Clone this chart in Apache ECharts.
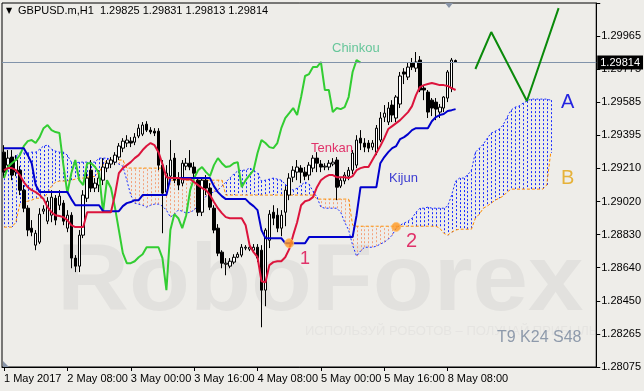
<!DOCTYPE html>
<html><head><meta charset="utf-8">
<script src="https://cdn.jsdelivr.net/npm/echarts@6/dist/echarts.min.js"></script>
<style>html,body{margin:0;padding:0;background:#eeede9;}#c{width:644px;height:391px;}</style>
</head><body><div id="c"></div>
<script>
// ---------- DATA ----------
const titleText = 'GBPUSD.m,H1  1.29825 1.29831 1.29813 1.29814';
const lastPriceText = '1.29814';
const lastPrice = 1.29814;

const xTickIdx = [0, 16, 32, 48, 64, 80, 96, 112];
const xTickText = ['1 May 2017', '2 May 08:00', '3 May 00:00', '3 May 16:00', '4 May 08:00', '5 May 00:00', '5 May 16:00', '8 May 08:00'];
const yTickLabels = ['1.28075', '1.28265', '1.28450', '1.28640', '1.28830', '1.29020', '1.29210', '1.29395', '1.29585', '1.29775', '1.29965'];

const opens = [
1.29302,1.29228,1.29274,1.29188,1.29199,1.29085,1.28982,1.28868,1.28771,1.28788,
1.28965,1.28908,1.28942,1.29039,1.28999,1.29011,1.28868,1.28942,1.28697,1.28651,
1.28828,1.29039,1.29199,1.29097,1.29114,1.29142,1.29211,1.29234,1.29245,1.29274,
1.29325,1.29354,1.29365,1.29359,1.29394,1.29405,1.29462,1.29428,1.29422,1.29422,
1.29228,1.29074,1.29165,1.29268,1.29154,1.29125,1.29222,1.29239,1.29217,1.29142,
1.28959,1.29142,1.29097,1.28982,1.28868,1.28731,1.28662,1.28651,1.28674,1.28702,
1.28714,1.28754,1.28748,1.28742,1.28759,1.28742,1.28514,1.28799,1.28959,1.28942,
1.28868,1.28959,1.29057,1.29159,1.29188,1.29211,1.29188,1.29171,1.29211,1.29268,
1.29234,1.29217,1.29217,1.29234,1.29257,1.29108,1.29137,1.29165,1.29199,1.29228,
1.29382,1.29354,1.29354,1.29331,1.29302,1.29371,1.29502,1.29474,1.29571,1.29497,
1.29577,1.29760,1.29731,1.29811,1.29782,1.29828,1.29668,1.29645,1.29599,1.29588,
1.29531,1.29554,1.29611,1.29668,1.29825];
const closes = [
1.29188,1.29268,1.29171,1.29257,1.29085,1.28982,1.28857,1.28845,1.28839,1.28948,
1.28977,1.29022,1.29045,1.28914,1.29051,1.28908,1.28942,1.28697,1.28651,1.28828,
1.29057,1.29154,1.29097,1.29125,1.29154,1.29217,1.29239,1.29257,1.29285,1.29337,
1.29365,1.29371,1.29354,1.29388,1.29439,1.29457,1.29428,1.29417,1.29411,1.29228,
1.29068,1.29182,1.29257,1.29142,1.29114,1.29239,1.29239,1.29217,1.29182,1.28959,
1.29142,1.29097,1.28988,1.28857,1.28725,1.28668,1.28668,1.28679,1.28702,1.28719,
1.28759,1.28759,1.28759,1.28759,1.28697,1.28514,1.28857,1.28948,1.28925,1.28868,
1.28942,1.29085,1.29154,1.29199,1.29217,1.29188,1.29165,1.29228,1.29268,1.29239,
1.29217,1.29222,1.29239,1.29245,1.29102,1.29142,1.29171,1.29199,1.29297,1.29371,
1.29354,1.29331,1.29325,1.29354,1.29439,1.29497,1.29525,1.29554,1.29514,1.29617,
1.29737,1.29748,1.29788,1.29788,1.29817,1.29657,1.29657,1.29531,1.29554,1.29548,
1.29559,1.29617,1.29760,1.29828,1.29814];
const highs = [
1.29342,1.29314,1.29314,1.29285,1.29222,1.29114,1.28999,1.28914,1.28857,1.28982,
1.28999,1.29045,1.29085,1.29057,1.29085,1.29028,1.28971,1.28959,1.28714,1.28857,
1.29085,1.29188,1.29257,1.29154,1.29199,1.29268,1.29257,1.29274,1.29302,1.29354,
1.29382,1.29399,1.29388,1.29411,1.29462,1.29474,1.29479,1.29445,1.29439,1.29439,
1.29257,1.29228,1.29371,1.29297,1.29188,1.29257,1.29268,1.29314,1.29245,1.29154,
1.29154,1.29171,1.29125,1.28999,1.28891,1.28742,1.28697,1.28697,1.28719,1.28731,
1.28777,1.28771,1.28777,1.28777,1.28777,1.28771,1.28868,1.28971,1.28999,1.28982,
1.28971,1.29108,1.29182,1.29222,1.29257,1.29228,1.29217,1.29245,1.29285,1.29302,
1.29257,1.29239,1.29257,1.29268,1.29274,1.29154,1.29188,1.29217,1.29314,1.29399,
1.29428,1.29382,1.29371,1.29371,1.29457,1.29531,1.29571,1.29588,1.29599,1.29628,
1.29760,1.29782,1.29817,1.29840,1.29874,1.29851,1.29685,1.29657,1.29611,1.29611,
1.29577,1.29622,1.29771,1.29840,1.29831];
const lows = [
1.29154,1.29199,1.29142,1.29165,1.29057,1.28959,1.28822,1.28822,1.28742,1.28777,
1.28948,1.28891,1.28902,1.28885,1.28971,1.28885,1.28845,1.28639,1.28617,1.28617,
1.28811,1.29017,1.29074,1.29074,1.29074,1.29114,1.29188,1.29211,1.29228,1.29257,
1.29302,1.29331,1.29331,1.29342,1.29382,1.29394,1.29417,1.29405,1.29394,1.29199,
1.28839,1.29051,1.29154,1.29125,1.29085,1.29108,1.29199,1.29199,1.29159,1.28937,
1.28937,1.29057,1.28971,1.28839,1.28708,1.28639,1.28599,1.28639,1.28662,1.28697,
1.28702,1.28742,1.28737,1.28731,1.28674,1.28302,1.28422,1.28754,1.28885,1.28845,
1.28822,1.28879,1.29028,1.29131,1.29142,1.29125,1.29142,1.29142,1.29188,1.29188,
1.29188,1.29199,1.29199,1.29222,1.29028,1.29097,1.29119,1.29142,1.29177,1.29211,
1.29314,1.29302,1.29302,1.29314,1.29285,1.29359,1.29474,1.29457,1.29474,1.29474,
1.29554,1.29691,1.29714,1.29771,1.29760,1.29645,1.29599,1.29497,1.29508,1.29485,
1.29497,1.29531,1.29588,1.29645,1.29813];

const tenkan = [
1.29199,1.29211,1.29211,1.29199,1.29171,1.29131,1.29102,1.29085,1.29074,1.29057,
1.29034,1.28988,1.28959,1.28942,1.28937,1.28931,1.28914,1.28885,1.28874,1.28874,
1.28874,1.28959,1.28959,1.28959,1.28959,1.28959,1.28959,1.28959,1.29057,1.29182,
1.29211,1.29228,1.29245,1.29268,1.29285,1.29314,1.29337,1.29354,1.29342,1.29302,
1.29234,1.29159,1.29154,1.29154,1.29154,1.29148,1.29148,1.29148,1.29131,1.29114,
1.29097,1.29085,1.29057,1.29017,1.28982,1.28954,1.28931,1.28925,1.28925,1.28925,
1.28925,1.28885,1.28771,1.28731,1.28702,1.28565,1.28559,1.28657,1.28674,1.28679,
1.28679,1.28702,1.28748,1.28828,1.28902,1.28999,1.29022,1.29028,1.29045,1.29102,
1.29142,1.29159,1.29171,1.29171,1.29159,1.29159,1.29159,1.29154,1.29165,1.29199,
1.29211,1.29217,1.29217,1.29257,1.29297,1.29337,1.29382,1.29434,1.29451,1.29468,
1.29485,1.29508,1.29531,1.29565,1.29628,1.29674,1.29685,1.29691,1.29697,1.29691,
1.29685,1.29685,1.29680,1.29668,1.29657];
const kijun = [
1.29325,1.29325,1.29325,1.29325,1.29325,1.29325,1.29285,1.29239,1.29114,1.29074,
1.29074,1.29074,1.29074,1.29074,1.29074,1.29074,1.29074,1.29034,1.28999,1.28999,
1.28999,1.28999,1.28999,1.28999,1.28999,1.28965,1.28965,1.28965,1.28965,1.28965,
1.28994,1.29011,1.29017,1.29028,1.29028,1.29057,1.29057,1.29057,1.29057,1.29057,
1.29057,1.29057,1.29154,1.29154,1.29154,1.29154,1.29154,1.29154,1.29154,1.29154,
1.29154,1.29154,1.29154,1.29108,1.29074,1.29051,1.29034,1.29034,1.29034,1.29034,
1.29034,1.29034,1.29011,1.28994,1.28971,1.28857,1.28811,1.28811,1.28811,1.28811,
1.28811,1.28782,1.28782,1.28782,1.28782,1.28782,1.28782,1.28817,1.28817,1.28817,
1.28817,1.28817,1.28817,1.28817,1.28817,1.28817,1.28817,1.28817,1.28817,1.28942,
1.29102,1.29102,1.29102,1.29102,1.29102,1.29239,1.29274,1.29302,1.29325,1.29337,
1.29377,1.29388,1.29405,1.29428,1.29439,1.29439,1.29439,1.29439,1.29479,1.29502,
1.29514,1.29520,1.29537,1.29542,1.29548];
const chinkou = [
1.29154,1.29217,1.29239,1.29257,1.29285,1.29337,1.29365,1.29371,1.29354,1.29388,
1.29439,1.29457,1.29428,1.29417,1.29411,1.29228,1.29068,1.29182,1.29257,1.29142,
1.29114,1.29239,1.29239,1.29217,1.29182,1.28959,1.29142,1.29097,1.28988,1.28857,
1.28725,1.28668,1.28668,1.28679,1.28702,1.28719,1.28759,1.28759,1.28759,1.28759,
1.28697,1.28514,1.28857,1.28948,1.28925,1.28868,1.28942,1.29085,1.29154,1.29199,
1.29217,1.29188,1.29165,1.29228,1.29268,1.29239,1.29217,1.29222,1.29239,1.29245,
1.29102,1.29142,1.29171,1.29199,1.29297,1.29371,1.29354,1.29331,1.29325,1.29354,
1.29439,1.29497,1.29525,1.29554,1.29514,1.29617,1.29737,1.29748,1.29788,1.29788,
1.29817,1.29657,1.29657,1.29531,1.29554,1.29548,1.29559,1.29617,1.29760,1.29828,
1.29814];
const senkouA = [
1.29222,1.29245,1.29268,1.29279,1.29297,1.29297,1.29297,1.29302,1.29302,1.29319,
1.29337,1.29342,1.29319,1.29308,1.29302,1.29302,1.29285,1.29245,1.29239,1.29245,
1.29245,1.29245,1.29245,1.29245,1.29268,1.29268,1.29268,1.29257,1.29245,1.29234,
1.29222,1.29142,1.29057,1.29011,1.29005,1.28999,1.28988,1.28999,1.29005,1.29005,
1.28994,1.28971,1.28931,1.28948,1.28971,1.28965,1.28954,1.28959,1.28971,1.28999,
1.29017,1.29051,1.29068,1.29074,1.29085,1.29108,1.29131,1.29154,1.29177,1.29194,
1.29199,1.29199,1.29211,1.29199,1.29182,1.29137,1.29142,1.29148,1.29154,1.29148,
1.29142,1.29119,1.29097,1.29085,1.29097,1.29114,1.29131,1.29119,1.29079,1.29045,
1.28988,1.28982,1.28982,1.28982,1.28982,1.28959,1.28902,1.28857,1.28771,1.28708,
1.28737,1.28759,1.28759,1.28759,1.28765,1.28777,1.28788,1.28805,1.28828,1.28868,
1.28885,1.28897,1.28908,1.28925,1.28959,1.28982,1.28982,1.28988,1.28982,1.28982,
1.28982,1.28982,1.28994,1.29057,1.29137,1.29154,1.29154,1.29171,1.29199,1.29302,
1.29325,1.29348,1.29382,1.29411,1.29422,1.29434,1.29457,1.29502,1.29542,1.29559,
1.29565,1.29582,1.29594,1.29605,1.29605,1.29605,1.29605,1.29605,1.29599];
const senkouB = [
1.28874,1.28874,1.28874,1.28902,1.29005,1.29017,1.29022,1.29028,1.29039,1.29039,
1.29039,1.29068,1.29108,1.29131,1.29137,1.29137,1.29137,1.29142,1.29148,1.29154,
1.29154,1.29159,1.29159,1.29165,1.29188,1.29228,1.29257,1.29257,1.29257,1.29257,
1.29257,1.29211,1.29211,1.29211,1.29211,1.29211,1.29211,1.29211,1.29211,1.29211,
1.29211,1.29154,1.29142,1.29142,1.29142,1.29142,1.29142,1.29142,1.29142,1.29142,
1.29142,1.29142,1.29142,1.29142,1.29142,1.29142,1.29057,1.29057,1.29057,1.29057,
1.29057,1.29057,1.29057,1.29057,1.29057,1.29057,1.29057,1.29057,1.29057,1.29057,
1.29057,1.29057,1.29057,1.29057,1.29057,1.29057,1.29057,1.29057,1.29057,1.29034,
1.29034,1.29034,1.29034,1.29034,1.29034,1.29034,1.29034,1.29034,1.28885,1.28879,
1.28879,1.28879,1.28879,1.28879,1.28879,1.28879,1.28879,1.28879,1.28879,1.28879,
1.28879,1.28879,1.28879,1.28879,1.28879,1.28879,1.28879,1.28879,1.28879,1.28879,
1.28868,1.28839,1.28828,1.28845,1.28857,1.28862,1.28862,1.28862,1.28862,1.28925,
1.28948,1.28982,1.28994,1.29011,1.29028,1.29039,1.29051,1.29074,1.29091,1.29091,
1.29091,1.29091,1.29091,1.29091,1.29091,1.29091,1.29091,1.29114,1.29297];

const forecastIdx = [119, 123, 132, 140];
const forecastVal = [1.29777, 1.29988, 1.29594, 1.30125];
const crossIdx = [72, 99];
const crossVal = [1.28782, 1.28875];

// ---------- CATEGORIES (hourly bars, weekend skipped) ----------
const categories = [];
(function () {
  let t = Date.UTC(2017, 4, 1, 16);
  for (let i = 0; i < 150; i++) {
    const d = new Date(t);
    categories.push(d.getUTCDate() + ' May ' + String(d.getUTCHours()).padStart(2, '0') + ':00');
    t += 3600e3;
    let nd = new Date(t);
    while (nd.getUTCDay() === 6 || nd.getUTCDay() === 0) { t += 3600e3; nd = new Date(t); }
  }
})();

// ---------- HELPERS ----------
const BASE = 1.28075;
const STEP = 189;
const toY = p => Math.round((p - BASE) * 1e7) / 100;
const FONT = "'Liberation Sans Narrow', 'Arial Narrow', 'Liberation Sans', sans-serif";
const SANS = "'Liberation Sans', Arial, sans-serif";

const cloudData = senkouA.map((a, i) => [i, toY(a), toY(senkouB[i])]);

const chart = echarts.init(document.getElementById('c'), null, { renderer: 'canvas' });

function txt(x, y, text, color, size, family, extra, weight) {
  return Object.assign({
    type: 'text', x: x, y: y, z: 100, silent: true,
    style: { text: text, fill: color, fontSize: size, fontFamily: family || SANS, fontWeight: weight || 'normal', align: 'left', verticalAlign: 'middle' }
  }, extra || {});
}

const option = {
  animation: false,
  backgroundColor: '#eeede9',
  grid: { left: 2, top: 3, right: 42, bottom: 24, show: true, borderColor: '#000', borderWidth: 1, backgroundColor: 'transparent' },
  xAxis: {
    type: 'category', data: categories, boundaryGap: true,
    axisLine: { show: true, onZero: false, lineStyle: { color: '#000', width: 1 } },
    axisTick: { show: true, alignWithLabel: true, length: 4, interval: i => xTickIdx.includes(i), lineStyle: { color: '#000' } },
    axisLabel: {
      interval: i => xTickIdx.includes(i), align: 'left', margin: 6, color: '#000', fontSize: 11, fontFamily: FONT,
      formatter: (v, i) => { const k = xTickIdx.indexOf(i); return k >= 0 ? xTickText[k] : ''; }
    },
    splitLine: { show: false }
  },
  yAxis: {
    type: 'value', position: 'right', min: 0, max: STEP * 11, interval: STEP,
    axisLine: { show: true, lineStyle: { color: '#000', width: 1 } },
    axisTick: { show: true, length: 4, lineStyle: { color: '#000' } },
    axisLabel: {
      margin: 5, color: '#000', fontSize: 11, fontFamily: FONT,
      formatter: v => { const k = Math.round(v / STEP); return (Math.abs(v - k * STEP) < 1 && yTickLabels[k]) ? yTickLabels[k] : ''; }
    },
    splitLine: { show: false }
  },
  series: [
    {
      type: 'custom', silent: true, z: 1,
      renderItem: (params, api) => {
        const a = api.value(1), b = api.value(2);
        const pa = api.coord([api.value(0), a]);
        const pb = api.coord([api.value(0), b]);
        const x = Math.round(pa[0]) + 0.5;
        return { type: 'line', shape: { x1: x, y1: pa[1], x2: x, y2: pb[1] },
          style: { stroke: a >= b ? '#1a2cff' : '#f3a27c', lineWidth: 1, lineDash: [2, 2] } };
      },
      encode: { x: 0, y: [1, 2] },
      data: cloudData
    },
    { type: 'line', data: senkouA.map(toY), symbol: 'none', silent: true, z: 2,
      lineStyle: { color: '#1a2cff', width: 1, type: [2, 2] } },
    { type: 'line', data: senkouB.map(toY), symbol: 'none', silent: true, z: 2,
      lineStyle: { color: '#ff8c00', width: 1, type: [3, 2] } },
    {
      type: 'candlestick', silent: true, z: 3, barWidth: 3,
      data: opens.map((o, i) => [toY(o), toY(closes[i]), toY(lows[i]), toY(highs[i])]),
      itemStyle: { color: '#ffffff', color0: '#000000', borderColor: '#000000', borderColor0: '#000000', borderWidth: 1 },
      markLine: {
        silent: true, symbol: ['none', 'none'], animation: false,
        data: [{ yAxis: toY(lastPrice) }],
        lineStyle: { color: '#8193aa', width: 1, type: 'solid' },
        label: { show: true, position: 'end', distance: 1, formatter: lastPriceText, color: '#fff', backgroundColor: '#000',
          padding: [2, 3, 1, 3], fontSize: 11, fontFamily: FONT }
      }
    },
    { type: 'line', data: chinkou.map(toY), symbol: 'none', silent: true, z: 4, lineStyle: { color: '#32cd32', width: 2 } },
    { type: 'line', data: kijun.map(toY), symbol: 'none', silent: true, z: 5, lineStyle: { color: '#0000cd', width: 2 } },
    { type: 'line', data: tenkan.map(toY), symbol: 'none', silent: true, z: 6, lineStyle: { color: '#dc143c', width: 2 } },
    { type: 'line', data: forecastIdx.map((x, k) => [x, toY(forecastVal[k])]), symbol: 'none', silent: true, z: 6,
      lineStyle: { color: '#0a8a0a', width: 2 } },
    { type: 'scatter', data: crossIdx.map((x, k) => [x, toY(crossVal[k])]), symbolSize: 9, silent: true, z: 7,
      itemStyle: { color: '#ff9922', borderColor: '#ffc070', borderWidth: 1 } }
  ],
  graphic: [
    // watermark
    txt(57, 284, 'RoboForex', '#e2e1de', 95, SANS, { z: -10, scaleX: 1.05 }, 'bold'),
    txt(305, 331, 'ИСПОЛЬЗУЙ РОБОТОВ – ПОЛУЧАЙ ПРИБЫЛЬ', '#e5e4e1', 13, SANS, { z: -9 }),
    txt(6, 11, '▼', '#000', 8, "'DejaVu Sans', sans-serif"),
    txt(18, 11, titleText, '#000', 11, FONT),
    txt(332, 48, 'Chinkou', '#66c69a', 13),
    txt(311, 148, 'Tenkan', '#e0336a', 13),
    txt(389, 178, 'Kijun', '#3b3bd1', 13),
    txt(300, 259, '1', '#e0336a', 18),
    txt(406, 241, '2', '#e0336a', 20),
    txt(561, 102, 'A', '#2525e0', 20),
    txt(561, 178, 'B', '#e6b23a', 20),
    txt(497, 338, 'T9 K24 S48', '#8e9aab', 16),
    { type: 'polygon', z: 100, silent: true, shape: { points: [[445, 3], [453, 3], [449, 8]] }, style: { fill: '#8894a8' } },
    { type: 'polygon', z: 100, silent: true, shape: { points: [[3, 361], [3, 367], [9, 367]] }, style: { fill: '#8894a8' } }
  ]
};
chart.setOption(option);
</script>
</body></html>
